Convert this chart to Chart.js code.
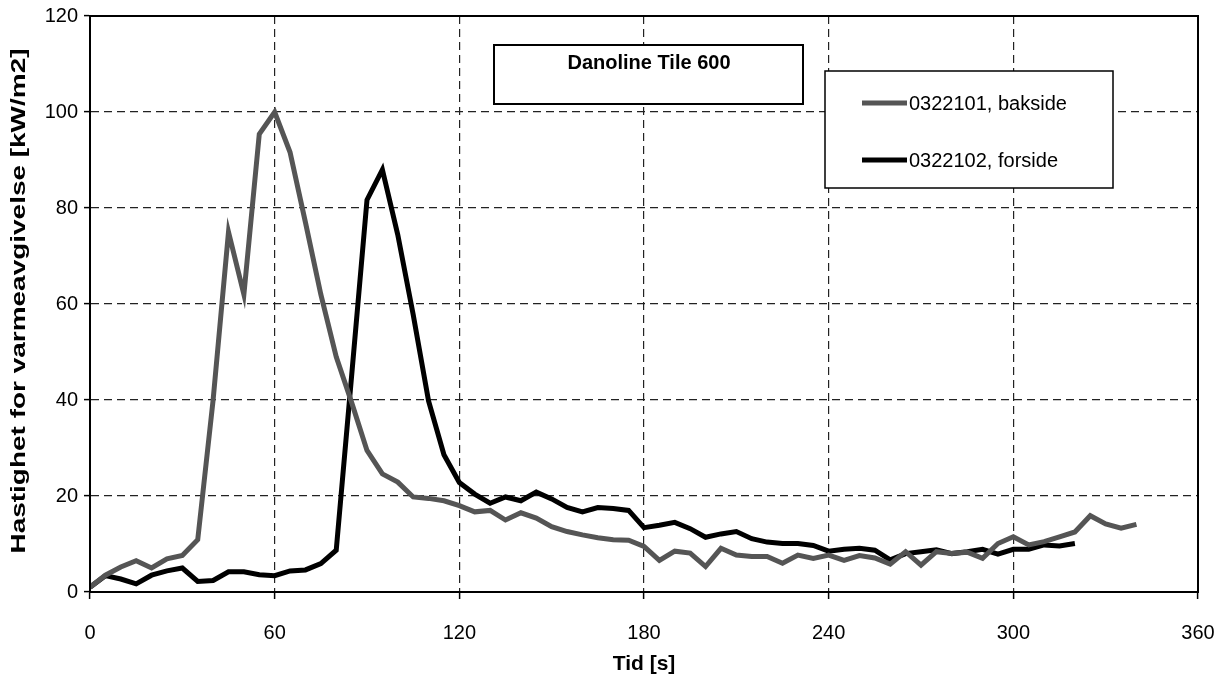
<!DOCTYPE html>
<html><head><meta charset="utf-8">
<script src="https://cdn.jsdelivr.net/npm/chart.js@4.4.1/dist/chart.umd.min.js"></script>
<style>html,body{margin:0;padding:0;background:#fff;}#wrap{width:1231px;height:677px;position:relative;}</style>
</head><body><div id="wrap"><canvas id="c" width="1231" height="677"></canvas></div>
<script>
// ---- data ----
const timesBakside = [0,5,10,15,20,25,30,35,40,45,50,55,60,65,70,75,80,85,90,95,100,105,110,115,120,125,130,135,140,145,150,155,160,165,170,175,180,185,190,195,200,205,210,215,220,225,230,235,240,245,250,255,260,265,270,275,280,285,290,295,300,305,310,315,320,325,330,335,340];
const valuesBakside = [1,3.5,5.2,6.5,5,6.9,7.6,10.9,40,75,62,95.4,100,91.6,77,62,49,39.5,29.5,24.6,22.9,19.8,19.5,19,18,16.7,17,15,16.5,15.4,13.6,12.6,11.9,11.3,10.9,10.8,9.5,6.6,8.5,8.1,5.3,9.1,7.7,7.4,7.4,6,7.7,7,7.7,6.6,7.6,7.1,5.8,8.4,5.6,8.4,8,8.3,7,10.1,11.5,9.8,10.5,11.5,12.5,15.9,14.2,13.3,14.1];
const timesForside = [0,5,10,15,20,25,30,35,40,45,50,55,60,65,70,75,80,85,90,95,100,105,110,115,120,125,130,135,140,145,150,155,160,165,170,175,180,185,190,195,200,205,210,215,220,225,230,235,240,245,250,255,260,265,270,275,280,285,290,295,300,305,310,315,320];
const valuesForside = [1,3.4,2.7,1.7,3.5,4.4,5,2.2,2.4,4.2,4.2,3.6,3.4,4.4,4.6,5.9,8.7,45,81.7,88,74.4,57.8,39.8,28.6,22.8,20.4,18.5,19.8,19,20.8,19.4,17.6,16.7,17.6,17.4,17,13.4,13.9,14.5,13.2,11.4,12.1,12.6,11.1,10.4,10.1,10.1,9.7,8.5,8.9,9.1,8.7,6.7,8,8.4,8.8,8,8.4,8.9,7.9,8.9,8.9,9.8,9.6,10.1];
const xTicks = [0,60,120,180,240,300,360];
const yTicks = [0,20,40,60,80,100,120];
const seriesLabels = ['0322101, bakside','0322102, forside'];
const chartTitle = 'Danoline Tile 600';
const xTitle = 'Tid [s]';
const yTitle = 'Hastighet for varmeavgivelse [kW/m2]';

const FONT = "'Liberation Sans', Arial, sans-serif";

const decor = {
  id: 'decor',
  afterDraw(chart) {
    const {ctx, chartArea: a} = chart;
    ctx.save();
    ctx.setLineDash([]);
    ctx.strokeStyle = '#000';
    ctx.lineWidth = 2;
    ctx.strokeRect(a.left, a.top, a.right - a.left, a.bottom - a.top);

    // title box
    ctx.fillStyle = '#fff';
    ctx.fillRect(494, 45, 309, 59);
    ctx.strokeRect(494, 45, 309, 59);
    ctx.fillStyle = '#000';
    ctx.font = 'bold 20px ' + FONT;
    ctx.textAlign = 'center';
    ctx.textBaseline = 'middle';
    ctx.fillText(chartTitle, 649, 63);

    // legend box
    ctx.fillStyle = '#fff';
    ctx.lineWidth = 1.5;
    ctx.fillRect(825, 71, 288, 117);
    ctx.strokeRect(825, 71, 288, 117);
    const rows = [103, 160];
    chart.data.datasets.forEach((ds, i) => {
      ctx.strokeStyle = ds.borderColor;
      ctx.lineWidth = ds.borderWidth;
      ctx.beginPath();
      ctx.moveTo(862, rows[i]);
      ctx.lineTo(907, rows[i]);
      ctx.stroke();
      ctx.fillStyle = '#000';
      ctx.font = '20px ' + FONT;
      ctx.textAlign = 'left';
      ctx.textBaseline = 'middle';
      ctx.fillText(ds.label, 909, rows[i] + 1);
    });

    // axis titles
    ctx.fillStyle = '#000';
    ctx.font = 'bold 21px ' + FONT;
    ctx.textAlign = 'center';
    ctx.textBaseline = 'middle';
    ctx.fillText(xTitle, 644, 664);

    ctx.save();
    ctx.translate(19, 301);
    ctx.rotate(-Math.PI / 2);
    ctx.font = 'bold 21px ' + FONT;
    const w = ctx.measureText(yTitle).width;
    ctx.scale(505 / w, 1);
    ctx.fillText(yTitle, 0, 0);
    ctx.restore();
    ctx.restore();
  }
};

const toPts = (xs, ys) => xs.map((x, i) => ({x, y: ys[i]}));

new Chart(document.getElementById('c'), {
  type: 'line',
  data: {
    datasets: [
      {label: seriesLabels[0], data: toPts(timesBakside, valuesBakside), borderColor: '#555555', borderWidth: 5, pointRadius: 0, tension: 0, fill: false},
      {label: seriesLabels[1], data: toPts(timesForside, valuesForside), borderColor: '#000000', borderWidth: 5, pointRadius: 0, tension: 0, fill: false}
    ]
  },
  options: {
    responsive: false,
    animation: false,
    devicePixelRatio: 1,
    layout: {padding: {left: 0, right: 33, top: 16, bottom: 0}},
    plugins: {legend: {display: false}, title: {display: false}, tooltip: {enabled: false}},
    scales: {
      x: {
        type: 'linear', min: 0, max: 360,
        afterBuildTicks: s => { s.ticks = xTicks.map(v => ({value: v})); },
        afterFit: s => { s.height = 85; s.paddingLeft = 0; s.paddingRight = 0; },
        grid: {color: '#222', lineWidth: 1.2, tickLength: 7, tickColor: '#000', tickWidth: 1.5, tickBorderDash: []},
        border: {display: true, color: '#000', width: 2, dash: [8, 5]},
        ticks: {color: '#000', font: {family: FONT, size: 20}, padding: 22, maxRotation: 0}
      },
      y: {
        min: 0, max: 120,
        afterBuildTicks: s => { s.ticks = yTicks.map(v => ({value: v})); },
        afterFit: s => { s.width = 90; s.paddingTop = 0; s.paddingBottom = 0; },
        grid: {color: '#222', lineWidth: 1.2, tickLength: 6, tickColor: '#000', tickWidth: 1.5, tickBorderDash: []},
        border: {display: true, color: '#000', width: 2, dash: [8, 5]},
        ticks: {color: '#000', font: {family: FONT, size: 20}, padding: 6}
      }
    }
  },
  plugins: [decor]
});
</script>
</body></html>
